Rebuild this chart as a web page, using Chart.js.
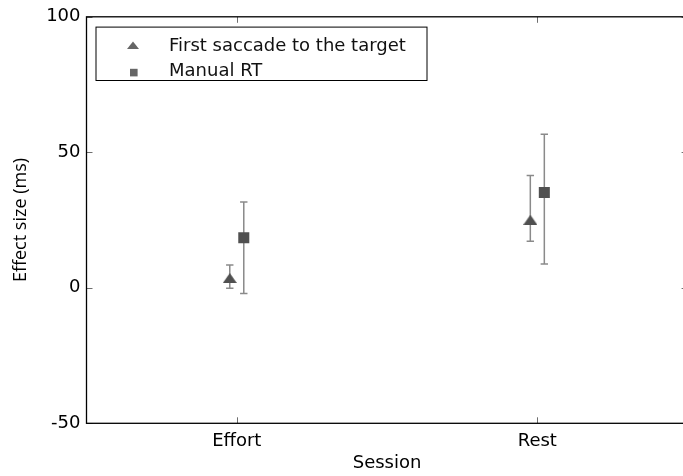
<!DOCTYPE html>
<html><head><meta charset="utf-8">
<script src="https://cdn.jsdelivr.net/npm/chart.js@4.4.1/dist/chart.umd.min.js"></script>
<style>
html,body{margin:0;padding:0;background:#fff;overflow:hidden;width:683px;height:476px}
#c{display:block}
</style></head>
<body><canvas id="c" width="683" height="476"></canvas>
<script>
// ---- data ----
const categories = ['Effort', 'Rest'];
const yTicks = [-50, 0, 50, 100];
const seriesNames = ['First saccade to the target', 'Manual RT'];
const saccadeMean = [3.6, 25.1];
const saccadeLow  = [-0.2, 17.2];
const saccadeHigh = [8.4, 41.4];
const manualMean  = [18.5, 35.2];
const manualLow   = [-2.1, 8.8];
const manualHigh  = [31.7, 56.7];

// ---- style ----
const OFFSET = 0.0233;
const MARKER = '#505050';
const ERRCOL = '#8a8a8a';
const FONT = '"DejaVu Sans", sans-serif';
const AREA_RIGHT = 687.6; // plot box runs past the canvas edge, as in the original

function triImage(w, h, color) {
  const c = document.createElement('canvas');
  c.width = w; c.height = h;
  const g = c.getContext('2d');
  g.fillStyle = color;
  g.beginPath(); g.moveTo(0, h); g.lineTo(w / 2, 0); g.lineTo(w, h); g.closePath(); g.fill();
  return c;
}
const triPlot = triImage(14, 10, MARKER);

function pts(means, lows, highs, shift) {
  return categories.map((c, i) => ({ x: i + 1 + shift, y: means[i], lo: lows[i], hi: highs[i] }));
}

const extendArea = {
  id: 'extendArea',
  afterLayout(chart) {
    const xs = chart.scales.x;
    chart.chartArea.right = AREA_RIGHT;
    chart.chartArea.width = AREA_RIGHT - chart.chartArea.left;
    xs.right = AREA_RIGHT;
    xs.width = AREA_RIGHT - xs.left;
    xs.configure();
  }
};

const errorBars = {
  id: 'errorBars',
  beforeDatasetsDraw(chart) {
    const ctx = chart.ctx, ys = chart.scales.y;
    ctx.save();
    ctx.strokeStyle = ERRCOL; ctx.lineWidth = 1.5;
    chart.data.datasets.forEach((ds, di) => {
      const meta = chart.getDatasetMeta(di);
      ds.data.forEach((p, i) => {
        const x = meta.data[i].x;
        const y1 = ys.getPixelForValue(p.lo), y2 = ys.getPixelForValue(p.hi);
        ctx.beginPath();
        ctx.moveTo(x, y1); ctx.lineTo(x, y2);
        ctx.moveTo(x - 3.7, y1); ctx.lineTo(x + 3.7, y1);
        ctx.moveTo(x - 3.7, y2); ctx.lineTo(x + 3.7, y2);
        ctx.stroke();
      });
    });
    ctx.restore();
  }
};

const frame = {
  id: 'frame',
  afterDraw(chart) {
    const ctx = chart.ctx, a = chart.chartArea, xs = chart.scales.x, ys = chart.scales.y;
    ctx.save();
    // inward ticks
    ctx.strokeStyle = '#6e6e6e'; ctx.lineWidth = 1;
    ctx.beginPath();
    xs.ticks.forEach(t => {
      const x = Math.round(xs.getPixelForValue(t.value)) + 0.5;
      ctx.moveTo(x, a.bottom); ctx.lineTo(x, a.bottom - 6);
      ctx.moveTo(x, a.top); ctx.lineTo(x, a.top + 6);
    });
    ys.ticks.forEach(t => {
      const y = Math.round(ys.getPixelForValue(t.value)) + 0.5;
      ctx.moveTo(a.left, y); ctx.lineTo(a.left + 6, y);
      ctx.moveTo(a.right, y); ctx.lineTo(a.right - 6, y);
    });
    ctx.stroke();
    // box
    ctx.strokeStyle = '#000'; ctx.lineWidth = 1.3;
    ctx.strokeRect(a.left, a.top, a.right - a.left, a.bottom - a.top);
    // legend
    const lx = a.left + 9.5, ly = a.top + 10.3, lw = 331, lh = 53.4;
    ctx.fillStyle = '#fff';
    ctx.fillRect(lx, ly, lw, lh);
    ctx.strokeStyle = '#000'; ctx.lineWidth = 1;
    ctx.strokeRect(lx, ly, lw, lh);
    ctx.fillStyle = '#666';
    ctx.beginPath();
    ctx.moveTo(lx + 31, ly + 22); ctx.lineTo(lx + 37, ly + 14.5); ctx.lineTo(lx + 43, ly + 22);
    ctx.closePath(); ctx.fill();
    ctx.fillRect(lx + 34, ly + 41.7, 7.6, 7.6);
    ctx.fillStyle = '#111';
    ctx.font = '18px ' + FONT;
    ctx.textBaseline = 'alphabetic'; ctx.textAlign = 'left';
    ctx.fillText(seriesNames[0], lx + 73, ly + 24);
    ctx.fillText(seriesNames[1], lx + 73, ly + 48.4);
    ctx.restore();
  }
};

new Chart(document.getElementById('c'), {
  type: 'scatter',
  data: {
    datasets: [
      { label: seriesNames[0], data: pts(saccadeMean, saccadeLow, saccadeHigh, -OFFSET),
        pointStyle: triPlot, backgroundColor: MARKER, borderWidth: 0 },
      { label: seriesNames[1], data: pts(manualMean, manualLow, manualHigh, OFFSET),
        pointStyle: 'rect', pointRadius: 7.8, backgroundColor: MARKER, borderWidth: 0 }
    ]
  },
  options: {
    responsive: false, animation: false, devicePixelRatio: 1,
    layout: { padding: { top: 13, right: 0, left: 0, bottom: 0 } },
    plugins: { legend: { display: false }, tooltip: { enabled: false } },
    scales: {
      x: {
        type: 'linear', min: 0.5, max: 2.5,
        afterBuildTicks: s => { s.ticks = categories.map((c, i) => ({ value: i + 1 })); },
        afterFit: s => { s.height = 52.7; },
        grid: { display: false, drawTicks: false }, border: { display: false },
        ticks: { padding: 7, color: '#000', font: { family: FONT, size: 18 },
                 callback: v => categories[v - 1] },
        title: { display: true, text: 'Session', color: '#000',
                 font: { family: FONT, size: 18 }, padding: { top: 0, bottom: 2 } }
      },
      y: {
        min: -50, max: 100,
        afterBuildTicks: s => { s.ticks = yTicks.map(v => ({ value: v })); },
        afterFit: s => { s.width = 86.5; },
        grid: { display: false, drawTicks: false }, border: { display: false },
        ticks: { padding: 6, color: '#000', font: { family: FONT, size: 18 } },
        title: { display: true, text: 'Effect size (ms)', color: '#000',
                 font: { family: '"Open Sans", sans-serif', size: 18 }, padding: { top: 10, bottom: 0 } }
      }
    }
  },
  plugins: [extendArea, errorBars, frame]
});
</script>
</body></html>
